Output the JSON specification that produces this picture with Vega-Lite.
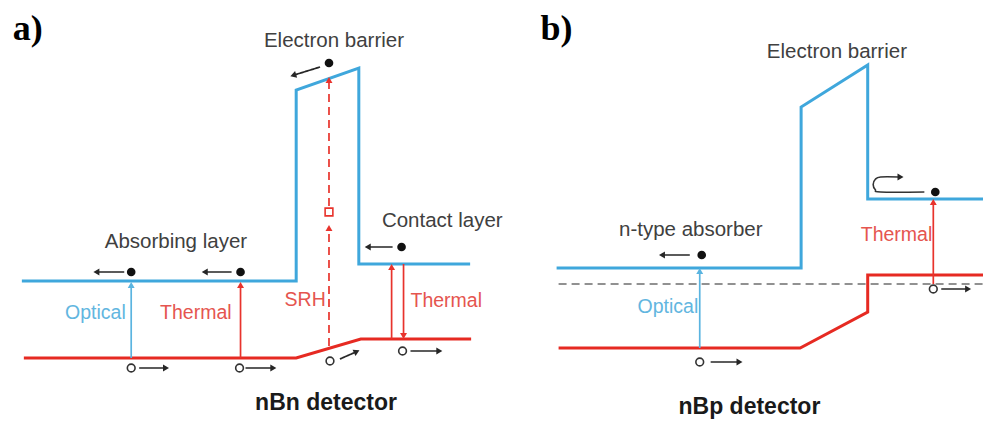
{
  "$schema": "https://vega.github.io/schema/vega-lite/v6.json",
  "width": 989,
  "height": 421,
  "autosize": {"type": "fit", "contains": "padding"},
  "padding": 0,
  "background": "white",
  "config": {"view": {"stroke": null}},
  "resolve": {"scale": {"color": "independent", "strokeDash": "independent"}},
  "datasets": {
    "bands": [
      {"s": "a_cb", "i": 0, "x": 22, "y": 281},
      {"s": "a_cb", "i": 1, "x": 298, "y": 281},
      {"s": "a_cb", "i": 2, "x": 298, "y": 90},
      {"s": "a_cb", "i": 3, "x": 361, "y": 68},
      {"s": "a_cb", "i": 4, "x": 361, "y": 264},
      {"s": "a_cb", "i": 5, "x": 473, "y": 264},
      {"s": "a_vb", "i": 0, "x": 24, "y": 358},
      {"s": "a_vb", "i": 1, "x": 298, "y": 358},
      {"s": "a_vb", "i": 2, "x": 363, "y": 339},
      {"s": "a_vb", "i": 3, "x": 474, "y": 339},
      {"s": "b_cb", "i": 0, "x": 560, "y": 268},
      {"s": "b_cb", "i": 1, "x": 806, "y": 268},
      {"s": "b_cb", "i": 2, "x": 806, "y": 107},
      {"s": "b_cb", "i": 3, "x": 873, "y": 65},
      {"s": "b_cb", "i": 4, "x": 873, "y": 199},
      {"s": "b_cb", "i": 5, "x": 989, "y": 199},
      {"s": "b_vb", "i": 0, "x": 562, "y": 348},
      {"s": "b_vb", "i": 1, "x": 805, "y": 348},
      {"s": "b_vb", "i": 2, "x": 873, "y": 312},
      {"s": "b_vb", "i": 3, "x": 873, "y": 275},
      {"s": "b_vb", "i": 4, "x": 989, "y": 275}
    ],
    "fermi": [
      {"x": 562, "x2": 989, "y": 284}
    ],
    "arrows": [
      {"kind": "blue", "style": "solid", "x": 132, "y": 358, "x2": 132, "y2": 286, "ang": 0},
      {"kind": "red", "style": "solid", "x": 242, "y": 358, "x2": 242, "y2": 286, "ang": 0},
      {"kind": "red", "style": "dash", "x": 331, "y": 346, "x2": 331, "y2": 229, "ang": 0},
      {"kind": "red", "style": "dash", "x": 331, "y": 206, "x2": 331, "y2": 81, "ang": 0},
      {"kind": "red", "style": "solid", "x": 394, "y": 339, "x2": 394, "y2": 268, "ang": 0},
      {"kind": "red", "style": "solid", "x": 406, "y": 264, "x2": 406, "y2": 335, "ang": 180},
      {"kind": "black", "style": "solid", "x": 125, "y": 272, "x2": 98, "y2": 272, "ang": 270},
      {"kind": "black", "style": "solid", "x": 233, "y": 272, "x2": 207, "y2": 272, "ang": 270},
      {"kind": "black", "style": "solid", "x": 395, "y": 247, "x2": 371, "y2": 247, "ang": 270},
      {"kind": "black", "style": "solid", "x": 322, "y": 67, "x2": 296, "y2": 75, "ang": 253},
      {"kind": "black", "style": "solid", "x": 140, "y": 368, "x2": 166, "y2": 368, "ang": 90},
      {"kind": "black", "style": "solid", "x": 247, "y": 368, "x2": 274, "y2": 368, "ang": 90},
      {"kind": "black", "style": "solid", "x": 342, "y": 359, "x2": 358, "y2": 352, "ang": 65},
      {"kind": "black", "style": "solid", "x": 413, "y": 351, "x2": 441, "y2": 351, "ang": 90},
      {"kind": "blue", "style": "solid", "x": 704, "y": 348, "x2": 704, "y2": 272, "ang": 0},
      {"kind": "red", "style": "solid", "x": 939, "y": 284, "x2": 939, "y2": 203, "ang": 0},
      {"kind": "black", "style": "solid", "x": 694, "y": 255, "x2": 667, "y2": 255, "ang": 270},
      {"kind": "black", "style": "solid", "x": 715, "y": 362, "x2": 743, "y2": 362, "ang": 90},
      {"kind": "black", "style": "solid", "x": 947, "y": 289, "x2": 973, "y2": 289, "ang": 90}
    ],
    "uturn": [
      {"i": 0, "x": 930, "y": 192},
      {"i": 1, "x": 886, "y": 192},
      {"i": 2, "x": 880.7, "y": 189.8},
      {"i": 3, "x": 878.5, "y": 184.5},
      {"i": 4, "x": 880.7, "y": 179.2},
      {"i": 5, "x": 886, "y": 177},
      {"i": 6, "x": 904, "y": 177}
    ],
    "uturnhead": [
      {"x": 905, "y": 177, "ang": 90}
    ],
    "electrons": [
      {"x": 132, "y": 272}, {"x": 242, "y": 272}, {"x": 331, "y": 63}, {"x": 404, "y": 247},
      {"x": 706, "y": 255}, {"x": 941, "y": 192}
    ],
    "holes": [
      {"x": 132, "y": 368}, {"x": 241, "y": 368}, {"x": 332, "y": 361}, {"x": 405, "y": 351},
      {"x": 704, "y": 362}, {"x": 939, "y": 289}
    ],
    "traps": [
      {"x": 331, "y": 212}
    ],
    "labels": [
      {"text": "Electron barrier", "x": 336, "y": 41, "style": "gray"},
      {"text": "Absorbing layer", "x": 177, "y": 242, "style": "gray"},
      {"text": "Contact layer", "x": 445, "y": 221, "style": "gray"},
      {"text": "Electron barrier", "x": 842, "y": 52, "style": "gray"},
      {"text": "n-type absorber", "x": 695, "y": 230, "style": "gray"},
      {"text": "Optical", "x": 96, "y": 313, "style": "blue"},
      {"text": "Optical", "x": 672, "y": 307, "style": "blue"},
      {"text": "Thermal", "x": 197, "y": 313, "style": "red"},
      {"text": "SRH", "x": 307, "y": 300, "style": "red"},
      {"text": "Thermal", "x": 449, "y": 301, "style": "red"},
      {"text": "Thermal", "x": 902, "y": 235, "style": "red"},
      {"text": "nBn detector", "x": 328, "y": 403, "style": "title"},
      {"text": "nBp detector", "x": 754, "y": 407, "style": "title"},
      {"text": "a)", "x": 28, "y": 29, "style": "letter"},
      {"text": "b)", "x": 560, "y": 29, "style": "letter"}
    ]
  },
  "encoding": {
    "x": {"field": "x", "type": "quantitative", "scale": {"domain": [0, 989], "nice": false, "zero": false}, "axis": null},
    "y": {"field": "y", "type": "quantitative", "scale": {"domain": [0, 421], "nice": false, "zero": false, "reverse": true}, "axis": null}
  },
  "layer": [
    {
      "data": {"name": "fermi"},
      "mark": {"type": "rule", "color": "#6e6e6e", "strokeWidth": 1.6, "strokeDash": [8, 5]},
      "encoding": {"x2": {"field": "x2"}}
    },
    {
      "data": {"name": "bands"},
      "mark": {"type": "line", "strokeWidth": 3, "strokeJoin": "miter"},
      "encoding": {
        "order": {"field": "i", "type": "quantitative"},
        "color": {"field": "s", "type": "nominal", "legend": null,
          "scale": {"domain": ["a_cb", "a_vb", "b_cb", "b_vb"], "range": ["#3fa7dc", "#e62a22", "#3fa7dc", "#e62a22"]}}
      }
    },
    {
      "data": {"name": "arrows"},
      "mark": {"type": "rule", "strokeWidth": 1.7},
      "encoding": {
        "x2": {"field": "x2"},
        "y2": {"field": "y2"},
        "color": {"field": "kind", "type": "nominal", "legend": null,
          "scale": {"domain": ["black", "red", "blue"], "range": ["#262626", "#e8332c", "#5ab4e0"]}},
        "strokeDash": {"field": "style", "type": "nominal", "legend": null,
          "scale": {"domain": ["solid", "dash"], "range": [[1, 0], [8, 5]]}}
      }
    },
    {
      "data": {"name": "arrows"},
      "mark": {"type": "point", "shape": "triangle", "filled": true, "opacity": 1, "size": 48},
      "encoding": {
        "x": {"field": "x2", "type": "quantitative"},
        "y": {"field": "y2", "type": "quantitative"},
        "angle": {"field": "ang", "type": "quantitative", "scale": null},
        "color": {"field": "kind", "type": "nominal", "legend": null,
          "scale": {"domain": ["black", "red", "blue"], "range": ["#262626", "#e8332c", "#5ab4e0"]}}
      }
    },
    {
      "data": {"name": "uturn"},
      "mark": {"type": "line", "color": "#333333", "strokeWidth": 1.6, "interpolate": "cardinal"},
      "encoding": {"order": {"field": "i", "type": "quantitative"}}
    },
    {
      "data": {"name": "uturnhead"},
      "mark": {"type": "point", "shape": "triangle", "filled": true, "opacity": 1, "size": 48, "color": "#262626"},
      "encoding": {"angle": {"field": "ang", "type": "quantitative", "scale": null}}
    },
    {
      "data": {"name": "electrons"},
      "mark": {"type": "point", "shape": "circle", "filled": true, "opacity": 1, "size": 75, "color": "#111111"}
    },
    {
      "data": {"name": "holes"},
      "mark": {"type": "point", "shape": "circle", "filled": false, "fill": "white", "fillOpacity": 1, "opacity": 1, "size": 60, "stroke": "#333333", "strokeWidth": 1.6}
    },
    {
      "data": {"name": "traps"},
      "mark": {"type": "point", "shape": "square", "filled": false, "fill": "white", "fillOpacity": 1, "opacity": 1, "size": 60, "stroke": "#e8332c", "strokeWidth": 1.6}
    },
    {
      "data": {"name": "labels"},
      "transform": [{"filter": "datum.style === 'gray'"}],
      "mark": {"type": "text", "font": "Liberation Sans", "fontSize": 20.5, "color": "#404040", "align": "center", "baseline": "middle"},
      "encoding": {"text": {"field": "text"}}
    },
    {
      "data": {"name": "labels"},
      "transform": [{"filter": "datum.style === 'red'"}],
      "mark": {"type": "text", "font": "Liberation Sans", "fontSize": 19.5, "color": "#e5554f", "align": "center", "baseline": "middle"},
      "encoding": {"text": {"field": "text"}}
    },
    {
      "data": {"name": "labels"},
      "transform": [{"filter": "datum.style === 'blue'"}],
      "mark": {"type": "text", "font": "Liberation Sans", "fontSize": 19.5, "color": "#62b6e0", "align": "center", "baseline": "middle"},
      "encoding": {"text": {"field": "text"}}
    },
    {
      "data": {"name": "labels"},
      "transform": [{"filter": "datum.style === 'title'"}],
      "mark": {"type": "text", "font": "Liberation Sans", "fontSize": 23, "fontWeight": "bold", "color": "#1a1a1a", "align": "center", "baseline": "middle"},
      "encoding": {"text": {"field": "text"}}
    },
    {
      "data": {"name": "labels"},
      "transform": [{"filter": "datum.style === 'letter'"}],
      "mark": {"type": "text", "font": "Liberation Serif", "fontSize": 36, "fontWeight": "bold", "color": "#000000", "align": "center", "baseline": "middle"},
      "encoding": {"text": {"field": "text"}}
    }
  ]
}
